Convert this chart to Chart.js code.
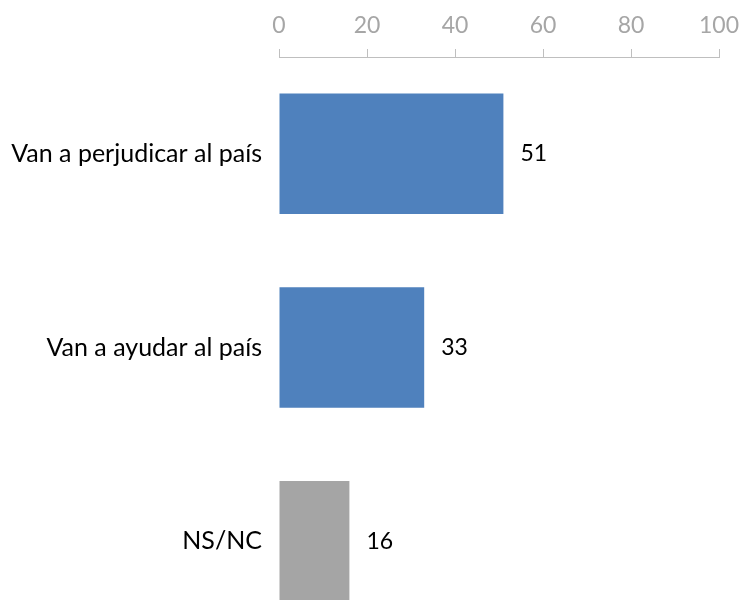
<!DOCTYPE html>
<html>
<head>
<meta charset="utf-8">
<script src="https://cdn.jsdelivr.net/npm/chart.js@4.4.0/dist/chart.umd.min.js"></script>
<style>
    html, body { margin: 0; padding: 0; background: #fff; overflow: hidden; }
    #caja { width: 744px; height: 600px; overflow: hidden; }
    canvas { display: block; }
</style>
</head>
<body>
<div id="caja"><canvas id="grafico" width="744" height="638"></canvas></div>
<script>
// DATOS
var categorias = ['Van a perjudicar al país', 'Van a ayudar al país', 'NS/NC'];
var valores = [51, 33, 16];
var ticksX = [0, 20, 40, 60, 80, 100];

var fuente = 'Lato, "Liberation Sans", sans-serif';

// etiquetas de valor a la derecha de cada barra
var etiquetas = {
    id: 'etiquetas',
    afterDatasetsDraw: function (chart) {
        var ctx = chart.ctx;
        var meta = chart.getDatasetMeta(0);
        ctx.save();
        ctx.font = '23px ' + fuente;
        ctx.fillStyle = '#000000';
        ctx.textAlign = 'left';
        ctx.textBaseline = 'middle';
        meta.data.forEach(function (barra, i) {
            ctx.fillText(valores[i], barra.x + 17, barra.y);
        });
        ctx.restore();
    }
};

var grafico = new Chart(document.getElementById('grafico'), {
    type: 'bar',
    data: {
        labels: categorias,
        datasets: [{
            data: valores,
            backgroundColor: ['#4F81BD', '#4F81BD', '#A5A5A5'],
            borderWidth: 0,
            categoryPercentage: 1,
            barPercentage: 0.622
        }]
    },
    options: {
        indexAxis: 'y',
        responsive: false,
        animation: false,
        layout: {
            padding: { left: 0, right: 25, top: 0, bottom: 0 }
        },
        plugins: {
            legend: { display: false },
            tooltip: { enabled: false }
        },
        scales: {
            x: {
                position: 'top',
                min: 0,
                max: 100,
                afterBuildTicks: function (scale) {
                    scale.ticks = ticksX.map(function (v) { return { value: v }; });
                },
                afterFit: function (scale) {
                    scale.height = 57;
                    scale.paddingLeft = 0;
                    scale.paddingRight = 0;
                },
                grid: {
                    drawOnChartArea: false,
                    drawTicks: true,
                    tickLength: 8,
                    color: '#BFBFBF',
                    lineWidth: 1
                },
                border: {
                    display: true,
                    color: '#BFBFBF',
                    width: 1
                },
                ticks: {
                    color: '#A6A6A6',
                    padding: 10,
                    maxRotation: 0,
                    font: { family: fuente, size: 23 }
                }
            },
            y: {
                afterFit: function (scale) {
                    scale.width = 279;
                    scale.paddingTop = 0;
                    scale.paddingBottom = 0;
                },
                grid: { display: false, drawTicks: false },
                border: { display: false },
                ticks: {
                    color: '#000000',
                    padding: 17,
                    font: { family: fuente, size: 25 }
                }
            }
        }
    },
    plugins: [etiquetas]
});
</script>
</body>
</html>
